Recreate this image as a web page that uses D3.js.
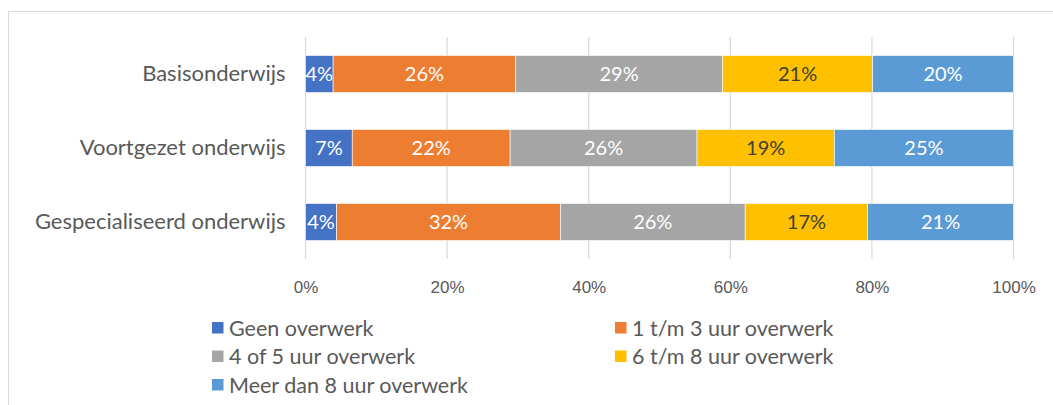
<!DOCTYPE html>
<html>
<head>
<meta charset="utf-8">
<script src="https://cdn.jsdelivr.net/npm/d3@7"></script>
<style>
  body { margin: 0; background: #fff; }
  svg { display: block; }
</style>
</head>
<body>
<svg id="chart" width="1053" height="405"></svg>
<script>
// categories (top to bottom)
const categories = ['Basisonderwijs', 'Voortgezet onderwijs', 'Gespecialiseerd onderwijs'];

// series names and shares per category (%)
const seriesNames = ['Geen overwerk', '1 t/m 3 uur overwerk', '4 of 5 uur overwerk', '6 t/m 8 uur overwerk', 'Meer dan 8 uur overwerk'];
const geen = [3.9, 6.6, 4.4];
const uur1tm3 = [25.8, 22.3, 31.6];
const uur4of5 = [29.2, 26.4, 26.1];
const uur6tm8 = [21.2, 19.4, 17.3];
const meerDan8 = [19.9, 25.3, 20.6];

const xTicks = [0, 20, 40, 60, 80, 100];

const colors = ['#4472C4', '#ED7D31', '#A5A5A5', '#FFC000', '#5B9BD5'];
const labelColors = ['#fff', '#fff', '#fff', '#404040', '#fff'];

const seriesValues = [geen, uur1tm3, uur4of5, uur6tm8, meerDan8];
const rows = categories.map((c, i) => {
    const r = { cat: c };
    seriesNames.forEach((s, j) => { r[s] = seriesValues[j][i]; });
    return r;
});
const stacked = d3.stack().keys(seriesNames)(rows);

const svg = d3.select('#chart');

// outer frame of the chart area
svg.append('path')
    .attr('d', 'M8.5,405 V11.5 H1053')
    .attr('fill', 'none')
    .attr('stroke', '#d9d9d9')
    .attr('stroke-width', 1);

const x = d3.scaleLinear().domain([0, 100]).range([305.5, 1013.5]);
const y = d3.scaleBand().domain(categories).range([37, 259])
    .paddingInner(0.5).paddingOuter(0.25);

// gridlines
svg.append('g')
    .selectAll('line')
    .data(xTicks)
    .join('line')
    .attr('x1', d => x(d)).attr('x2', d => x(d))
    .attr('y1', 37).attr('y2', 259)
    .attr('stroke', '#d9d9d9')
    .attr('stroke-width', 1.2);

// bars
const groups = svg.append('g')
    .selectAll('g')
    .data(stacked)
    .join('g')
    .attr('fill', (d, i) => colors[i]);

groups.selectAll('rect')
    .data(d => d)
    .join('rect')
    .attr('x', d => x(d[0]))
    .attr('y', d => y(d.data.cat))
    .attr('width', d => x(d[1]) - x(d[0]))
    .attr('height', y.bandwidth())
    .attr('stroke', '#fff')
    .attr('stroke-width', 0.6);

// data labels
groups.each(function (s, i) {
    d3.select(this).selectAll('text')
        .data(s)
        .join('text')
        .attr('x', d => (x(d[0]) + x(d[1])) / 2)
        .attr('y', d => y(d.data.cat) + y.bandwidth() / 2)
        .attr('dy', '0.36em')
        .attr('text-anchor', 'middle')
        .attr('font-family', 'Lato, sans-serif')
        .attr('font-size', 20)
        .attr('fill', labelColors[i])
        .text(d => Math.round(d.data[s.key]) + '%');
});

// category axis (no line)
const yAxis = svg.append('g')
    .attr('transform', 'translate(305.5,0)')
    .call(d3.axisLeft(y).tickSize(0).tickPadding(20));
yAxis.select('.domain').remove();
yAxis.selectAll('text')
    .attr('font-family', 'Lato, sans-serif')
    .attr('font-size', 22)
    .attr('fill', '#595959');

// value axis labels
const xAxis = svg.append('g')
    .attr('transform', 'translate(0,259)')
    .call(d3.axisBottom(x).tickValues(xTicks).tickSize(0).tickPadding(22).tickFormat(d => d + '%'));
xAxis.select('.domain').remove();
xAxis.selectAll('text')
    .attr('font-family', '"Liberation Sans", Arial, sans-serif')
    .attr('font-size', 17)
    .attr('fill', '#595959');

// legend
const legendPos = [[212, 328], [615, 328], [212, 356.5], [615, 356.5], [212, 385]];
const legend = svg.append('g')
    .selectAll('g')
    .data(seriesNames)
    .join('g')
    .attr('transform', (d, i) => `translate(${legendPos[i][0]},${legendPos[i][1]})`);
legend.append('rect')
    .attr('x', 0).attr('y', -6)
    .attr('width', 11.5).attr('height', 11.5)
    .attr('fill', (d, i) => colors[i]);
legend.append('text')
    .attr('x', 17)
    .attr('dy', '0.36em')
    .attr('font-family', 'Lato, sans-serif')
    .attr('font-size', 21.5)
    .attr('fill', '#595959')
    .text(d => d);
</script>
</body>
</html>
